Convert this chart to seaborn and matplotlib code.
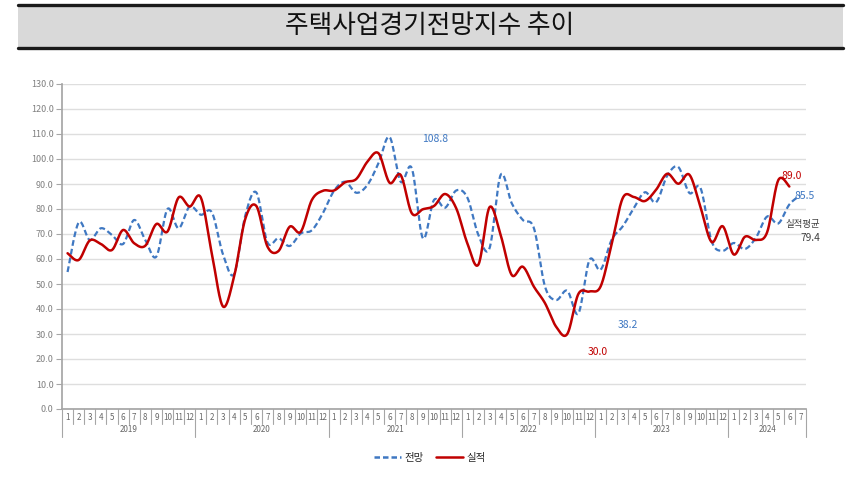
import numpy as np
import pandas as pd
import matplotlib
matplotlib.use("Agg")
import matplotlib.pyplot as plt
from matplotlib.patches import Rectangle
from matplotlib.lines import Line2D
import seaborn as sns

# ---------------- data ----------------
years = ["2019", "2020", "2021", "2022", "2023", "2024"]
months_per_year = [12, 12, 12, 12, 12, 7]
month_labels = [str(m) for n in months_per_year for m in range(1, n + 1)]

forecast = [  # 전망
    54.8, 74.6, 67.6, 72.3, 69.6, 66.0, 75.6, 67.6, 61.0, 80.0, 72.3, 81.0,
    77.7, 78.6, 61.8, 54.0, 77.3, 86.6, 66.6, 68.3, 65.2, 70.2, 71.5, 78.4,
    87.3, 90.9, 86.5, 89.6, 98.3, 108.8, 90.9, 96.3, 68.3, 83.6, 80.5, 87.4,
    84.6, 69.6, 64.3, 93.6, 82.3, 75.6, 72.3, 48.9, 43.6, 47.3, 38.2, 59.6,
    55.7, 67.7, 73.1, 80.4, 86.7, 82.7, 93.3, 96.8, 86.4, 88.4, 67.1, 63.3,
    66.4, 64.0, 68.6, 77.0, 74.2, 81.8, 85.5,
]
actual = [  # 실적
    62.3, 59.6, 67.4, 66.0, 63.6, 71.6, 66.3, 65.3, 74.0, 71.0, 84.6, 81.0,
    84.6, 62.0, 41.0, 53.0, 76.0, 81.2, 65.0, 63.2, 72.9, 70.9, 83.6, 87.3,
    87.4, 90.7, 92.0, 98.9, 102.3, 90.5, 93.6, 78.3, 79.9, 81.2, 86.0, 80.3,
    66.3, 57.8, 80.7, 69.6, 53.6, 56.9, 48.9, 42.3, 32.9, 30.0, 46.0, 47.0,
    49.0, 66.0, 84.4, 84.8, 83.2, 87.7, 94.1, 90.1, 93.7, 80.7, 66.8, 73.1,
    61.8, 68.9, 67.6, 70.7, 91.5, 89.0,
]
series_names = ["전망", "실적"]
avg_label = "실적평균"
avg_value = "79.4"
title = "주택사업경기전망지수 추이"

BLUE = "#3f78c2"
RED = "#c00000"


def smooth(values, n=24):
    """Excel-like smoothed line (Catmull-Rom Bezier) through the data points."""
    y = np.asarray(values, float)
    x = np.arange(len(y), dtype=float)
    P = np.column_stack([x, y])
    P = np.vstack([P[0], P, P[-1]])
    xs, ys = [], []
    t = np.linspace(0, 1, n, endpoint=False)[:, None]
    for i in range(len(y) - 1):
        p0, p1, p2, p3 = P[i], P[i + 1], P[i + 2], P[i + 3]
        c1 = p1 + (p2 - p0) / 6.0
        c2 = p2 - (p3 - p1) / 6.0
        b = ((1 - t) ** 3) * p1 + 3 * ((1 - t) ** 2) * t * c1 + 3 * (1 - t) * t ** 2 * c2 + t ** 3 * p2
        xs.append(b[:, 0]); ys.append(b[:, 1])
    xs.append([x[-1]]); ys.append([y[-1]])
    return np.concatenate(xs), np.concatenate(ys)


sns.set_theme(style="white")
plt.rcParams["font.family"] = ["Noto Sans CJK KR", "DejaVu Sans"]

fig = plt.figure(figsize=(8.6, 4.8), dpi=100)
W, H = 860, 480
ax = fig.add_axes([62 / W, (H - 409) / H, 744 / W, 325 / H])

fx, fy = smooth(forecast)
ax_x, ax_y = smooth(actual)
df_f = pd.DataFrame({"x": fx, "y": fy})
df_a = pd.DataFrame({"x": ax_x, "y": ax_y})

sns.lineplot(data=df_f, x="x", y="y", ax=ax, color=BLUE, lw=1.6, sort=False,
             estimator=None, linestyle=(0, (2.6, 1.4)), zorder=3)
sns.lineplot(data=df_a, x="x", y="y", ax=ax, color=RED, lw=1.8, sort=False,
             estimator=None, zorder=4)

ax.set_xlim(-0.5, len(month_labels) - 0.5)
ax.set_ylim(0, 130)
ax.set_yticks(np.arange(0, 131, 10))
ax.set_yticklabels([f"{v:.1f}" for v in np.arange(0, 131, 10)], fontsize=6.5, color="#808080")
ax.yaxis.grid(True, color="#dedede", lw=1.0)
ax.xaxis.grid(False)
ax.set_xlabel(""); ax.set_ylabel("")
for s in ["top", "right"]:
    ax.spines[s].set_visible(False)
ax.spines["left"].set_color("#a6a6a6")
ax.spines["bottom"].set_color("#a6a6a6")
ax.tick_params(axis="y", length=4, width=0.8, color="#a6a6a6", pad=2, left=True)

ax.set_xticks(range(len(month_labels)))
ax.set_xticklabels(month_labels, fontsize=5.8, color="#666666")
ax.tick_params(axis="x", length=0, pad=3)

# two-level category separators
trans = ax.get_xaxis_transform()
month_sep = 15 / 325
year_sep = 28 / 325
boundaries = np.cumsum([0] + months_per_year)
for k in range(len(month_labels) + 1):
    xb = k - 0.5
    depth = year_sep if k in boundaries else month_sep
    ax.plot([xb, xb], [0, -depth], transform=trans, color="#a6a6a6", lw=0.8, clip_on=False)
for yi, yr in enumerate(years):
    center = (boundaries[yi] + boundaries[yi + 1] - 1) / 2
    ax.text(center, -21 / 325, yr, transform=trans, ha="center", va="center",
            fontsize=5.8, color="#666666")

# annotations
def note(i, vals, txt, dx, dy, color):
    ax.annotate(txt, xy=(i, vals[i]), xytext=(dx, dy), textcoords="offset points",
                ha="center", va="center", fontsize=7.5, color=color)

note(29, forecast, "108.8", 33, -1.5, BLUE)
note(46, forecast, "38.2", 36, -8, BLUE)
note(45, actual, "30.0", 22, -13, RED)
note(65, actual, "89.0", 1.5, 7.5, RED)
note(66, forecast, "85.5", 3, -0.5, BLUE)
ax.text(66.2, 73.6, avg_label, ha="center", va="center", fontsize=6.8, color="#404040")
ax.text(66.9, 68.4, avg_value, ha="center", va="center", fontsize=7.3, color="#404040")

# legend
handles = [Line2D([0], [0], color=BLUE, lw=1.8, linestyle=(0, (2.2, 1.2))),
           Line2D([0], [0], color=RED, lw=1.8)]
fig.legend(handles, series_names, loc="center", bbox_to_anchor=(0.5, 1 - 458 / H),
           ncol=2, frameon=False, fontsize=7.5, handlelength=2.6, handletextpad=0.3,
           columnspacing=1.2)

# title box
fig.patches.append(Rectangle((18 / W, 1 - 48 / H), 825 / W, 43 / H, transform=fig.transFigure,
                             facecolor="#d9d9d9", edgecolor="none", zorder=0))
fig.add_artist(Line2D([18 / W, 843 / W], [1 - 5 / H, 1 - 5 / H], transform=fig.transFigure,
                      color="#1a1a1a", lw=2.4))
fig.add_artist(Line2D([18 / W, 843 / W], [1 - 48 / H, 1 - 48 / H], transform=fig.transFigure,
                      color="#1a1a1a", lw=2.4))
fig.text(0.5, 1 - 26 / H, title, ha="center", va="center", fontsize=18.5,
         fontweight="light", color="#111111")

fig.savefig("out.png", dpi=100)
